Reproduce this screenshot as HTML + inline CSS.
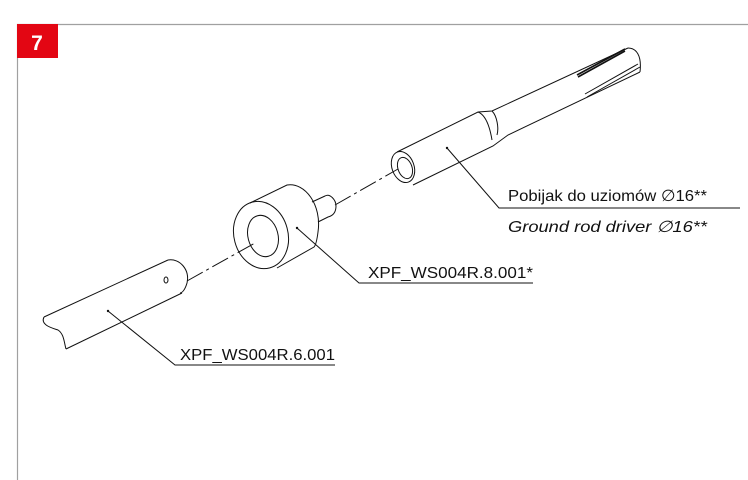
<!DOCTYPE html>
<html><head><meta charset="utf-8"><style>
html,body{margin:0;padding:0;background:#fff;}
svg{display:block;}
text{font-family:"Liberation Sans",sans-serif;}
</style></head><body>
<svg width="748" height="480" viewBox="0 0 748 480" xmlns="http://www.w3.org/2000/svg">
<line x1="17" y1="24.5" x2="748" y2="24.5" stroke="#a0a0a0" stroke-width="1.2"/>
<line x1="17.5" y1="24" x2="17.5" y2="480" stroke="#a0a0a0" stroke-width="1.2"/>
<rect x="17" y="24" width="41" height="34" fill="#e30613"/>
<text x="37" y="50" font-size="21" font-weight="bold" fill="#fff" text-anchor="middle">7</text>
<g fill="none" stroke="#111" stroke-width="1">
<path d="M187 281 L255 243 M335 205 L398 169" stroke-dasharray="18,4,3,4"/>
<path d="M44 317 L168 260"/>
<path d="M66 349 L182 293"/>
<path d="M168 260 C180 258 190 270 187 283 C185 290 182 293 180 293"/>
<path d="M44 317 C40 325 52 328 58 330 C64 334 64 342 66 349"/>
<ellipse cx="166" cy="280" rx="2" ry="3"/>
<ellipse cx="261" cy="235" rx="27" ry="34" transform="rotate(-15 261 235)"/>
<ellipse cx="263" cy="236" rx="15" ry="21" transform="rotate(-15 263 236)"/>
<path d="M250 203 L287 185 C305 182 322 205 318 232 C317 240 316 245 314 247 L277 268"/>
<path d="M312 202 L325 196 C330 193 336 200 336 206 C336 213 332 216 328 217 L318 222"/>
<ellipse cx="403" cy="167" rx="11" ry="16" transform="rotate(-20 403 167)"/>
<ellipse cx="405" cy="168" rx="7" ry="11" transform="rotate(-20 405 168)"/>
<path d="M397 152 L478 112 L492 111 L628 48"/>
<path d="M413 185 L493 146 L508 135 L640 72"/>
<path d="M478 112 C486 115 490 128 492 140"/>
<path d="M492 111 C497 116 499 128 497 135"/>
<path d="M628 48 C636 48 642 55 640 72"/>
<path d="M577 75 L625 49 M578 77 L625 51" stroke-width="1.6"/>
<path d="M585 94 L638 64 M587 97 L640 67"/>
<path d="M447 148 L499 208 L740 208"/>
<path d="M297 228 L359 283 L533 283"/>
<path d="M108 311 L175 365 L335 365"/>
</g>
<circle cx="447" cy="148" r="1.2" fill="#111"/>
<circle cx="297" cy="228" r="1.2" fill="#111"/>
<circle cx="108" cy="311" r="1.2" fill="#111"/>
<text x="508" y="201" font-size="16" fill="#111" textLength="199" lengthAdjust="spacingAndGlyphs">Pobijak do uziomów   ∅16**</text>
<text x="508" y="232" font-size="16" font-style="italic" fill="#111" textLength="199" lengthAdjust="spacingAndGlyphs">Ground rod driver ∅16**</text>
<text x="368" y="278" font-size="16" fill="#111" textLength="165" lengthAdjust="spacingAndGlyphs">XPF_WS004R.8.001*</text>
<text x="180" y="360" font-size="16" fill="#111" textLength="155" lengthAdjust="spacingAndGlyphs">XPF_WS004R.6.001</text>
</svg>
</body></html>
